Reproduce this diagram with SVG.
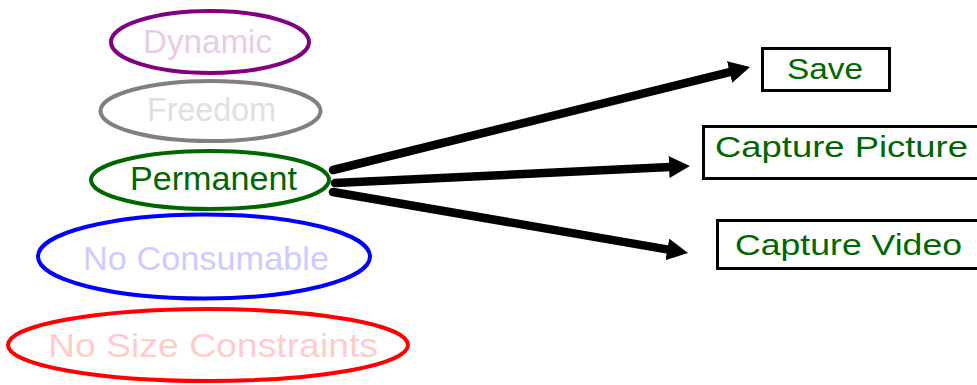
<svg xmlns="http://www.w3.org/2000/svg" width="977" height="385" viewBox="0 0 977 385">
<style>
  .lbl { font-family: "Comic Sans MS", "Liberation Sans", "DejaVu Sans", sans-serif; text-anchor: middle; }
  .big { font-size: 34px; }
  .box { font-size: 29px; fill: #006600; }
  .el { fill: none; stroke-width: 4; }
  .rb { fill: #ffffff; stroke: #000000; stroke-width: 3; }
  .con { stroke: #000000; stroke-width: 8.5; stroke-linecap: round; fill: none; }
</style>
<defs>
  <marker id="ah" markerUnits="userSpaceOnUse" viewBox="0 0 21 22" markerWidth="21" markerHeight="22" refX="1" refY="11" orient="auto">
    <path d="M0,0 L21,11 L0,22 z" fill="#000000"/>
  </marker>
</defs>
<rect width="977" height="385" fill="#ffffff"/>
<g id="n-dynamic">
  <ellipse class="el" cx="210" cy="42" rx="99" ry="31" stroke="#800080"/>
  <text class="lbl big" x="207.5" y="53" textLength="129" lengthAdjust="spacingAndGlyphs" fill="#e8cce8">Dynamic</text>
</g>
<g id="n-freedom">
  <ellipse class="el" cx="210.5" cy="111" rx="110" ry="30" stroke="#808080"/>
  <text class="lbl big" x="211.5" y="121" textLength="129" lengthAdjust="spacingAndGlyphs" fill="#e0e0e0">Freedom</text>
</g>
<g id="n-permanent">
  <ellipse class="el" cx="210" cy="180" rx="119" ry="29" stroke="#006600"/>
  <text class="lbl big" x="213.5" y="190" textLength="167" lengthAdjust="spacingAndGlyphs" fill="#006600">Permanent</text>
</g>
<g id="n-noconsumable">
  <ellipse class="el" cx="204" cy="256.5" rx="166" ry="42" stroke="#0000ff"/>
  <text class="lbl big" x="206" y="270" textLength="246" lengthAdjust="spacingAndGlyphs" fill="#ccccff">No Consumable</text>
</g>
<g id="n-nosize">
  <ellipse class="el" cx="208" cy="345" rx="200" ry="36" stroke="#ff0000"/>
  <text class="lbl big" x="213" y="357" textLength="330" lengthAdjust="spacingAndGlyphs" fill="#ffcccc">No Size Constraints</text>
</g>
<g id="connectors">
  <line class="con" x1="333" y1="170" x2="730.6" y2="71.8" marker-end="url(#ah)"/>
  <line class="con" x1="335" y1="183" x2="670" y2="167" marker-end="url(#ah)"/>
  <line class="con" x1="333" y1="192" x2="668.3" y2="249.6" marker-end="url(#ah)"/>
</g>
<g id="n-save">
  <rect class="rb" x="762.5" y="48.5" width="127" height="42"/>
  <text class="lbl box" x="825" y="79" textLength="76" lengthAdjust="spacingAndGlyphs">Save</text>
</g>
<g id="n-capturepicture">
  <rect class="rb" x="703.5" y="126.5" width="290" height="52"/>
  <text class="lbl box" x="841.5" y="157" textLength="253" lengthAdjust="spacingAndGlyphs">Capture Picture</text>
</g>
<g id="n-capturevideo">
  <rect class="rb" x="717.5" y="220.5" width="280" height="48"/>
  <text class="lbl box" x="848.5" y="255" textLength="227" lengthAdjust="spacingAndGlyphs">Capture Video</text>
</g>
</svg>
